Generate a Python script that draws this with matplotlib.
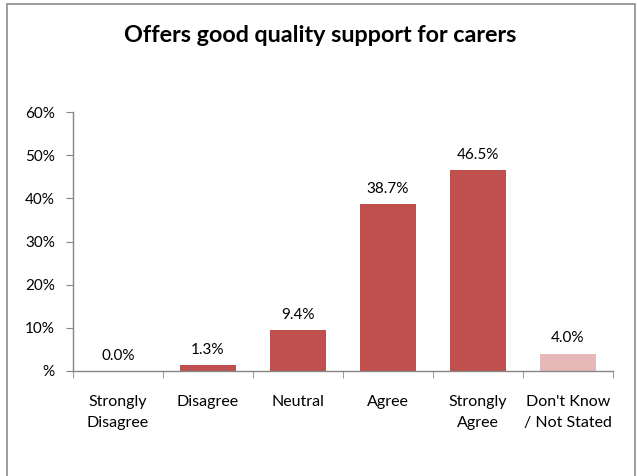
import matplotlib
matplotlib.use("Agg")
import matplotlib.pyplot as plt
from matplotlib.patches import Rectangle
from matplotlib.ticker import FixedLocator

plt.rcParams['font.family'] = ['Lato', 'DejaVu Sans']

categories = ["Strongly\nDisagree", "Disagree", "Neutral", "Agree",
              "Strongly\nAgree", "Don't Know\n/ Not Stated"]
values = [0.0, 1.3, 9.4, 38.7, 46.5, 4.0]
value_labels = ["0.0%", "1.3%", "9.4%", "38.7%", "46.5%", "4.0%"]
bar_colors = ["#C0504D", "#C0504D", "#C0504D", "#C0504D", "#C0504D", "#E6B9B8"]
y_ticks = [0, 10, 20, 30, 40, 50, 60]
y_tick_labels = ["%", "10%", "20%", "30%", "40%", "50%", "60%"]
title = "Offers good quality support for carers"

W, H = 637, 476
fig = plt.figure(figsize=(W / 100, H / 100), dpi=100)
fig.patch.set_facecolor("white")

# chart frame
fig.add_artist(Rectangle((7 / W, -0.01), (635 - 7) / W, 1.01 - 4 / H,
                         transform=fig.transFigure, fill=False,
                         edgecolor="#8C8C8C", linewidth=1.2))

ax = fig.add_axes([73 / W, (H - 371) / H, 540 / W, (371 - 112) / H])

x = list(range(len(categories)))
ax.bar(x, values, width=0.62, color=bar_colors, zorder=2)

for xi, v, lab in zip(x, values, value_labels):
    ax.annotate(lab, (xi, v), xytext=(0, 6), textcoords="offset points",
                ha="center", va="bottom", fontsize=11, color="#000000")

ax.set_xlim(-0.5, len(categories) - 0.5)
ax.set_ylim(0, 60)
ax.set_yticks(y_ticks)
ax.set_yticklabels(y_tick_labels, fontsize=11)

ax.set_xticks(x)
ax.set_xticklabels(categories, fontsize=11.5, linespacing=1.65)
ax.xaxis.set_minor_locator(FixedLocator([i - 0.5 for i in range(len(categories) + 1)]))
ax.tick_params(axis="x", which="major", length=0, pad=17.5)
ax.tick_params(axis="x", which="minor", length=5, color="#868686", direction="out")
ax.tick_params(axis="y", length=5, color="#868686", direction="out", pad=8)

for s in ("top", "right"):
    ax.spines[s].set_visible(False)
for s in ("left", "bottom"):
    ax.spines[s].set_color("#868686")
    ax.spines[s].set_linewidth(1.0)

fig.text(320 / W, 1 - 35 / H, title, ha="center", va="center",
         fontsize=16.8, fontweight="bold")

fig.savefig("out.png", dpi=100)
